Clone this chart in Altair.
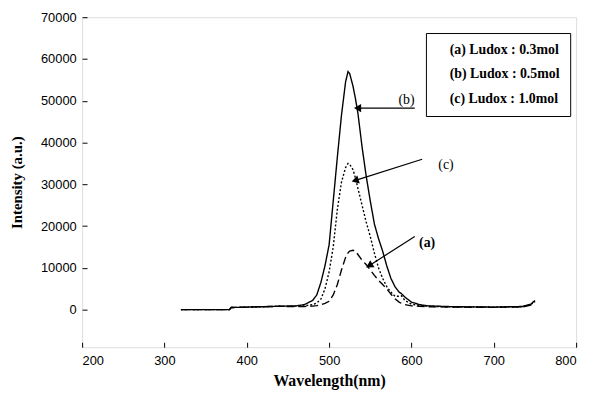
import altair as alt
import pandas as pd

# ---- data ----
wavelength = [320, 379, 381, 400, 440, 460, 470, 480, 485, 490, 495, 500, 505, 510, 515,
              520, 523, 525, 529, 532, 535, 540, 545, 550, 555, 560, 565, 570, 575, 580,
              585, 588, 592, 600, 610, 620, 650, 700, 735, 745, 750]
series_a = [0, 0, 500, 600, 800, 700, 750, 850, 950, 1200, 1500, 2000, 3500, 6000, 9500,
            12500, 13600, 14000, 14200, 14000, 13200, 11800, 10800, 9500, 8200, 7000, 6000, 5000, 3700, 2600,
            1800, 1500, 1200, 900, 800, 700, 600, 550, 650, 1100, 1900]
series_b = [0, 0, 500, 600, 800, 900, 1200, 2200, 3500, 6500, 10500, 15500, 26000, 36500, 46500,
            54500, 57000, 56500, 53500, 50500, 47000, 39000, 32000, 26000, 20500, 17000, 14000, 10500, 7500, 5500,
            4200, 3800, 3000, 1800, 1200, 900, 700, 600, 750, 1300, 2200]
series_c = [0, 0, 500, 600, 800, 850, 900, 1200, 1600, 2500, 5000, 9000, 15000, 24000, 30500,
            34000, 35000, 34800, 33500, 31500, 29000, 25000, 21000, 17500, 13500, 10000, 7500, 5500, 4200, 3200,
            3200, 3300, 2200, 1300, 1000, 800, 650, 600, 700, 1200, 2000]
series_names = ["(a) Ludox : 0.3mol", "(b) Ludox : 0.5mol", "(c) Ludox : 1.0mol"]
series_dash = [[8, 4], [1, 0], [2, 2]]

x_ticks = [200, 300, 400, 500, 600, 700, 800]
y_ticks = [0, 10000, 20000, 30000, 40000, 50000, 60000, 70000]

# annotations: label text, label position, arrow start, arrow tip, arrowhead angle
ann_label = ["(a)", "(b)", "(c)"]
ann_lx = [619, 594, 642]
ann_ly = [16000, 50200, 34500]
ann_x1 = [604, 604, 613]
ann_y1 = [17500, 48250, 36000]
ann_x2 = [550, 536, 533]
ann_y2 = [10700, 48250, 31000]
ann_angle = [239, 270, 253]
ann_weight = ["bold", "normal", "normal"]

# ---- tables ----
rows = []
for name, vals in zip(series_names, [series_a, series_b, series_c]):
    for w, v in zip(wavelength, vals):
        rows.append({"nm": w, "val": v, "series": name})
df = pd.DataFrame(rows)

ann = pd.DataFrame({"label": ann_label, "lx": ann_lx, "ly": ann_ly, "x1": ann_x1, "y1": ann_y1,
                    "x2": ann_x2, "y2": ann_y2, "ang": ann_angle, "weight": ann_weight})

xscale = alt.Scale(domain=[200, 800], nice=False, zero=False)
yscale = alt.Scale(domain=[-9000, 70000], nice=False, zero=False)

axis_common = dict(grid=False, domain=False, tickColor="black", tickSize=5, offset=-5,
                   labelFont="Liberation Sans", labelFontSize=13, labelColor="black",
                   titleFont="Liberation Serif", titleFontWeight="bold",
                   titleColor="black")

lines = alt.Chart(df).mark_line(strokeWidth=1.4, clip=True).encode(
    x=alt.X("nm:Q", scale=xscale,
            axis=alt.Axis(values=x_ticks, title="Wavelength(nm)", labelPadding=7,
                          titlePadding=6, titleFontSize=16, **axis_common)),
    y=alt.Y("val:Q", scale=yscale,
            axis=alt.Axis(values=y_ticks, title="Intensity (a.u.)", labelPadding=6,
                          titlePadding=16, titleFontSize=15, format="d", **axis_common)),
    color=alt.Color("series:N",
                    scale=alt.Scale(domain=series_names, range=["black", "black", "black"]),
                    legend=alt.Legend(title=None, orient="none", legendX=348, legendY=16,
                                      symbolSize=0, symbolOpacity=0, symbolStrokeWidth=0,
                                      labelOffset=0, labelFont="Liberation Serif",
                                      labelFontWeight="bold", labelFontSize=14,
                                      labelColor="black", padding=10, rowPadding=11,
                                      strokeColor="black", fillColor="white")),
    strokeDash=alt.StrokeDash("series:N",
                              scale=alt.Scale(domain=series_names, range=series_dash),
                              legend=None),
    order=alt.Order("nm:Q"),
)

arrows = alt.Chart(ann).mark_rule(color="black", strokeWidth=1.2).encode(
    x=alt.X("x1:Q", scale=xscale), y=alt.Y("y1:Q", scale=yscale),
    x2="x2:Q", y2="y2:Q",
)

heads = alt.Chart(ann).mark_point(shape="triangle", filled=True, color="black",
                                  size=70, opacity=1).encode(
    x=alt.X("x2:Q", scale=xscale), y=alt.Y("y2:Q", scale=yscale),
    angle=alt.Angle("ang:Q", scale=None),
)

text_bold = alt.Chart(ann).transform_filter(alt.datum.weight == "bold").mark_text(
    font="Liberation Serif", fontWeight="bold", fontSize=14, color="black").encode(
    x=alt.X("lx:Q", scale=xscale), y=alt.Y("ly:Q", scale=yscale), text="label:N")

text_norm = alt.Chart(ann).transform_filter(alt.datum.weight == "normal").mark_text(
    font="Liberation Serif", fontSize=14, color="black").encode(
    x=alt.X("lx:Q", scale=xscale), y=alt.Y("ly:Q", scale=yscale), text="label:N")

chart = alt.layer(lines, arrows, heads, text_bold, text_norm).properties(
    width=500, height=334,
    autosize=alt.AutoSizeParams(type="none"),
    padding={"left": 75, "top": 7, "right": 10, "bottom": 43},
).configure_view(stroke="black", strokeWidth=1.3).configure(background="white")

chart.save("out.html", embed_options={"renderer": "svg", "actions": False})
